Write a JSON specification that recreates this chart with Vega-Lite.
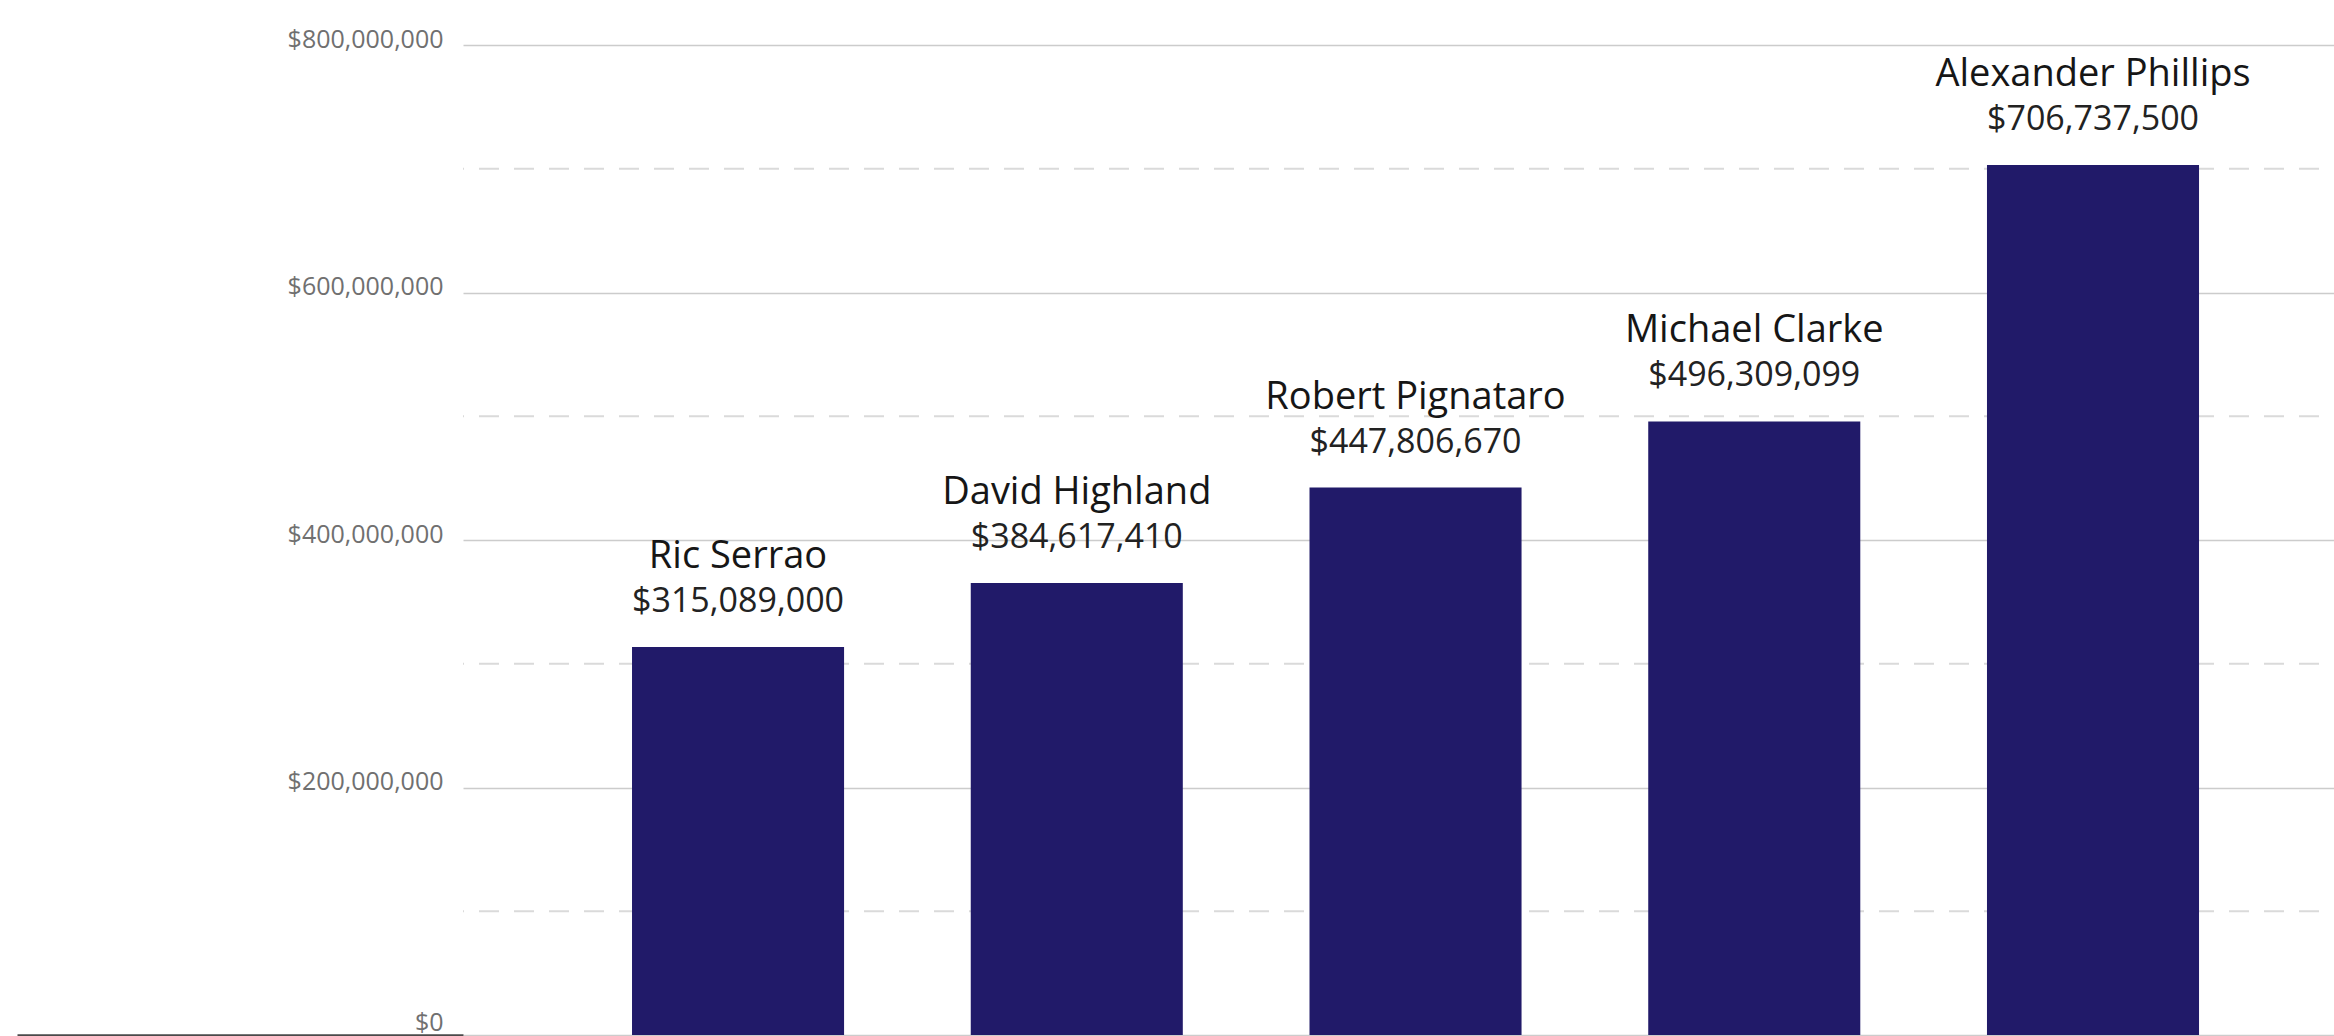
{
  "$schema": "https://vega.github.io/schema/vega-lite/v6.json",
  "width": 1871,
  "height": 990,
  "autosize": {"type": "none"},
  "padding": {"left": 463, "top": 45, "right": 0, "bottom": 1},
  "background": "white",
  "config": {"view": {"stroke": null}, "font": "Open Sans"},
  "datasets": {
    "advisors": [
      {"name": "Ric Serrao", "amount": 313500000, "label": "$315,089,000"},
      {"name": "David Highland", "amount": 365300000, "label": "$384,617,410"},
      {"name": "Robert Pignataro", "amount": 442400000, "label": "$447,806,670"},
      {"name": "Michael Clarke", "amount": 495800000, "label": "$496,309,099"},
      {"name": "Alexander Phillips", "amount": 703000000, "label": "$706,737,500"}
    ],
    "guides": [
      {"level": 100000000},
      {"level": 300000000},
      {"level": 500000000},
      {"level": 700000000}
    ]
  },
  "layer": [
    {
      "data": {"name": "guides"},
      "mark": {"type": "rule", "color": "#dadada", "strokeWidth": 2, "strokeDash": [20, 15], "strokeDashOffset": 20},
      "encoding": {
        "y": {"field": "level", "type": "quantitative"}
      }
    },
    {
      "data": {"name": "advisors"},
      "mark": {"type": "bar", "color": "#211a69"},
      "encoding": {
        "x": {
          "field": "name", "type": "nominal", "sort": null,
          "scale": {"type": "band", "paddingInner": 0.374, "paddingOuter": 0.4487, "align": 0.556},
          "axis": null
        },
        "y": {
          "field": "amount", "type": "quantitative",
          "scale": {"domain": [0, 800000000], "nice": false},
          "axis": {
            "title": null,
            "values": [0, 200000000, 400000000, 600000000, 800000000],
            "format": "$,d",
            "domain": false,
            "grid": true,
            "gridColor": "#cccccc",
            "gridWidth": 1.5,
            "ticks": true,
            "tickSize": 446,
            "tickWidth": 2.5,
            "tickColor": {"condition": {"test": "datum.value === 0", "value": "#4a4a4a"}, "value": "transparent"},
            "labelPadding": -426,
            "labelFont": "Open Sans",
            "labelFontSize": 25,
            "labelColor": "#707070",
            "labelBaseline": "middle",
            "labelOffset": {"condition": {"test": "datum.value === 0", "value": -13}, "value": -6}
          }
        }
      }
    },
    {
      "data": {"name": "advisors"},
      "mark": {"type": "text", "baseline": "alphabetic", "align": "center", "dy": -79, "fontSize": 38, "fontWeight": 400, "color": "#161616", "font": "Open Sans"},
      "encoding": {
        "x": {"field": "name", "type": "nominal", "sort": null},
        "y": {"field": "amount", "type": "quantitative"},
        "text": {"field": "name"}
      }
    },
    {
      "data": {"name": "advisors"},
      "mark": {"type": "text", "baseline": "alphabetic", "align": "center", "dy": -35, "fontSize": 34, "fontWeight": 400, "color": "#222222", "font": "Open Sans"},
      "encoding": {
        "x": {"field": "name", "type": "nominal", "sort": null},
        "y": {"field": "amount", "type": "quantitative"},
        "text": {"field": "label"}
      }
    }
  ]
}
